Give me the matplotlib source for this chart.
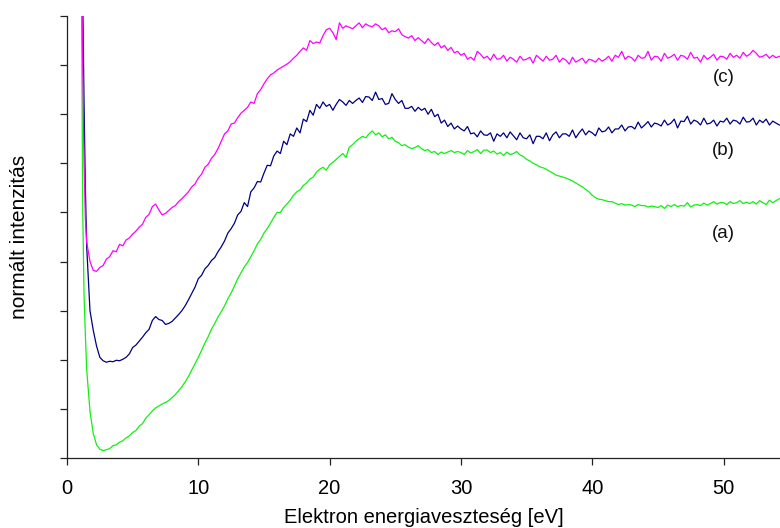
import numpy as np
import matplotlib
matplotlib.use("Agg")
import matplotlib.pyplot as plt

# Steep onset near the elastic peak, sampled every 0.1 eV
head_energy = [1.0, 1.1, 1.2, 1.3, 1.4]
head_a = [14.0, 9.5, 5.0, 3.3, 2.5]
head_b = [14.0, 11.0, 9.3, 7.2, 5.5]
head_c = [14.0, 10.5, 8.0, 6.0, 4.85]

# Loss spectra from 1.5 eV on, one row per eV, 0.25 eV steps
spectrum_a = [
    1.80, 0.95,
    0.50, 0.27, 0.18, 0.15,
    0.17, 0.19, 0.25, 0.27,
    0.32, 0.35, 0.41, 0.45,
    0.52, 0.56, 0.65, 0.70,
    0.81, 0.88, 0.96, 1.02,
    1.06, 1.10, 1.13, 1.17,
    1.23, 1.29, 1.37, 1.45,
    1.55, 1.66, 1.79, 1.92,
    2.05, 2.19, 2.34, 2.47,
    2.62, 2.74, 2.87, 2.98,
    3.10, 3.24, 3.36, 3.50,
    3.65, 3.77, 3.89, 3.98,
    4.10, 4.22, 4.36, 4.45,
    4.58, 4.67, 4.78, 4.90,
    5.00, 5.00, 5.10, 5.17,
    5.25, 5.35, 5.42, 5.46,
    5.55, 5.60, 5.68, 5.72,
    5.82, 5.88, 5.92, 5.86,
    5.97, 6.02, 6.08, 6.14,
    6.20, 6.12, 6.33, 6.38,
    6.45, 6.50, 6.55, 6.52,
    6.60, 6.66, 6.58, 6.62,
    6.54, 6.58, 6.50, 6.53,
    6.45, 6.42, 6.36, 6.38,
    6.33, 6.30, 6.32, 6.36,
    6.30, 6.26, 6.28, 6.22,
    6.24, 6.18, 6.23, 6.20,
    6.23, 6.26, 6.22, 6.24,
    6.22, 6.18, 6.26, 6.21,
    6.24, 6.28, 6.20, 6.27,
    6.27, 6.22, 6.25, 6.19,
    6.22, 6.16, 6.23, 6.18,
    6.20, 6.24, 6.17, 6.14,
    6.08, 6.05, 6.00, 5.97,
    5.93, 5.91, 5.88, 5.84,
    5.80, 5.76, 5.74, 5.72,
    5.70, 5.67, 5.64, 5.60,
    5.56, 5.52, 5.47, 5.42,
    5.35, 5.30, 5.27, 5.26,
    5.24, 5.22, 5.22, 5.19,
    5.16, 5.18, 5.15, 5.16,
    5.15, 5.12, 5.16, 5.14,
    5.14, 5.11, 5.13, 5.12,
    5.10, 5.14, 5.08, 5.15,
    5.12, 5.16, 5.12, 5.14,
    5.13, 5.20, 5.11, 5.15,
    5.16, 5.14, 5.19, 5.15,
    5.18, 5.22, 5.17, 5.20,
    5.20, 5.16, 5.22, 5.18,
    5.20, 5.24, 5.18, 5.21,
    5.18, 5.22, 5.17, 5.24,
    5.20, 5.16, 5.25, 5.20,
    5.24, 5.28,
]

spectrum_b = [
    4.30, 3.00,
    2.60, 2.28, 2.05, 1.98,
    1.95, 1.97, 1.96, 1.99,
    1.98, 2.01, 2.05, 2.12,
    2.25, 2.30, 2.38, 2.46,
    2.55, 2.62, 2.80, 2.88,
    2.82, 2.80, 2.72, 2.74,
    2.78, 2.85, 2.92, 3.00,
    3.10, 3.22, 3.35, 3.48,
    3.65, 3.72, 3.85, 3.92,
    4.02, 4.08, 4.20, 4.30,
    4.42, 4.58, 4.67, 4.78,
    4.95, 5.02, 5.20, 5.12,
    5.42, 5.50, 5.63, 5.62,
    5.80, 5.96, 5.95, 6.15,
    6.25, 6.20, 6.45, 6.38,
    6.60, 6.55, 6.72, 6.62,
    6.90, 6.85, 7.08, 6.98,
    7.20, 7.12, 7.25, 7.16,
    7.20, 7.08, 7.20, 7.30,
    7.25, 7.18, 7.28, 7.22,
    7.28, 7.33, 7.24, 7.36,
    7.35, 7.28, 7.45, 7.30,
    7.32, 7.20, 7.22, 7.42,
    7.30, 7.22, 7.28, 7.12,
    7.12, 7.16, 7.06, 7.14,
    7.08, 7.12, 7.00, 7.10,
    6.95, 7.00, 6.82, 6.88,
    6.75, 6.82, 6.70, 6.76,
    6.70, 6.66, 6.75, 6.60,
    6.62, 6.54, 6.66, 6.58,
    6.57, 6.62, 6.45, 6.60,
    6.55, 6.62, 6.52, 6.64,
    6.56, 6.48, 6.62, 6.52,
    6.50, 6.58, 6.40, 6.55,
    6.55, 6.50, 6.62, 6.46,
    6.58, 6.64, 6.52, 6.60,
    6.60, 6.55, 6.68, 6.52,
    6.62, 6.70, 6.58, 6.66,
    6.62, 6.56, 6.72, 6.64,
    6.66, 6.74, 6.62, 6.70,
    6.70, 6.78, 6.66, 6.74,
    6.75, 6.70, 6.84, 6.72,
    6.78, 6.85, 6.74, 6.82,
    6.80, 6.76, 6.88, 6.78,
    6.82, 6.90, 6.72, 6.86,
    6.85, 6.96, 6.80, 6.88,
    6.85, 6.78, 6.92, 6.80,
    6.82, 6.88, 6.76, 6.86,
    6.84, 6.92, 6.80, 6.88,
    6.86, 6.80, 6.94, 6.84,
    6.85, 6.92, 6.78, 6.88,
    6.83, 6.90, 6.78, 6.86,
    6.82, 6.78,
]

spectrum_c = [
    4.40, 4.00,
    3.82, 3.80, 3.88, 3.92,
    4.05, 4.10, 4.22, 4.20,
    4.35, 4.32, 4.44, 4.48,
    4.56, 4.62, 4.70, 4.76,
    4.90, 4.96, 5.12, 5.17,
    5.05, 4.95, 4.98, 5.04,
    5.10, 5.14, 5.22, 5.28,
    5.35, 5.42, 5.52, 5.58,
    5.70, 5.78, 5.92, 5.98,
    6.10, 6.18, 6.30, 6.45,
    6.60, 6.66, 6.80, 6.82,
    6.93, 7.02, 7.08, 7.14,
    7.25, 7.22, 7.42, 7.50,
    7.62, 7.72, 7.80, 7.84,
    7.90, 7.94, 7.98, 8.02,
    8.07, 8.14, 8.20, 8.28,
    8.35, 8.30, 8.50, 8.44,
    8.47, 8.45, 8.60, 8.72,
    8.75, 8.66, 8.52, 8.86,
    8.75, 8.80, 8.77, 8.74,
    8.80, 8.86, 8.76, 8.84,
    8.80, 8.78, 8.84, 8.80,
    8.72, 8.76, 8.66, 8.70,
    8.68, 8.74, 8.62, 8.58,
    8.55, 8.60, 8.50, 8.56,
    8.50, 8.44, 8.54, 8.46,
    8.40, 8.46, 8.35, 8.40,
    8.30, 8.36, 8.25, 8.28,
    8.20, 8.24, 8.12, 8.16,
    8.10, 8.28, 8.22, 8.14,
    8.18, 8.10, 8.22, 8.12,
    8.13, 8.20, 8.08, 8.16,
    8.12, 8.06, 8.18, 8.10,
    8.12, 8.16, 8.04, 8.20,
    8.14, 8.08, 8.18, 8.10,
    8.12, 8.20, 8.06, 8.14,
    8.10, 8.02, 8.16, 8.06,
    8.10, 8.14, 8.04, 8.12,
    8.10, 8.06, 8.14, 8.08,
    8.12, 8.18, 8.08, 8.20,
    8.16, 8.28, 8.12, 8.18,
    8.15, 8.08, 8.20, 8.14,
    8.15, 8.28, 8.10, 8.18,
    8.17, 8.08, 8.24, 8.14,
    8.17, 8.22, 8.10, 8.20,
    8.18, 8.12, 8.26, 8.14,
    8.16, 8.06, 8.20, 8.12,
    8.16, 8.22, 8.10, 8.18,
    8.17, 8.12, 8.24, 8.16,
    8.20, 8.14, 8.26, 8.18,
    8.22, 8.30, 8.24, 8.16,
    8.18, 8.22, 8.14, 8.20,
    8.15, 8.18,
]

curve_labels = ["(a)", "(b)", "(c)"]
curve_colors = ["#11f011", "#000080", "#ff00ff"]
label_positions = [(50.0, 4.58), (50.0, 6.27), (50.0, 7.74)]
x_ticks = [0, 10, 20, 30, 40, 50]


def energy_axis(n):
    return np.concatenate([head_energy, 1.5 + 0.25 * np.arange(n)])


plt.rcParams["font.family"] = ["Liberation Sans", "DejaVu Sans"]

fig = plt.figure(figsize=(7.8, 5.28), dpi=100)
ax = fig.add_axes([67 / 780, 1 - 458 / 528, 1 - 67 / 780, (458 - 16) / 528])

series = [(head_a, spectrum_a), (head_b, spectrum_b), (head_c, spectrum_c)]
for (head, body), color in zip(series, curve_colors):
    y = np.concatenate([head, body])
    ax.plot(energy_axis(len(body)), y, color=color, lw=0.9)

for text, (lx, ly) in zip(curve_labels, label_positions):
    ax.text(lx, ly, text, fontsize=13.5, ha="center", va="center", color="#111111")

ax.set_xlim(0, (780 - 67) / 13.13)
ax.set_ylim(0, 9)
ax.set_xticks(x_ticks)
ax.set_yticks(np.arange(0, 10))
ax.set_yticklabels([])
ax.tick_params(axis="both", direction="out", length=5, width=0.9,
               color="#222222", labelsize=14.5, pad=10)
for side in ("top", "right"):
    ax.spines[side].set_visible(False)
for side in ("left", "bottom"):
    ax.spines[side].set_color("#222222")
    ax.spines[side].set_linewidth(0.9)

ax.set_xlabel("Elektron energiaveszteség [eV]", fontsize=14.5)
ax.set_ylabel("normált intenzitás", fontsize=15)
ax.xaxis.set_label_coords(0.5, (458 - 508) / 442)
ax.yaxis.set_label_coords((29 - 67) / 713, 0.5)

fig.savefig("out.png", dpi=100)
